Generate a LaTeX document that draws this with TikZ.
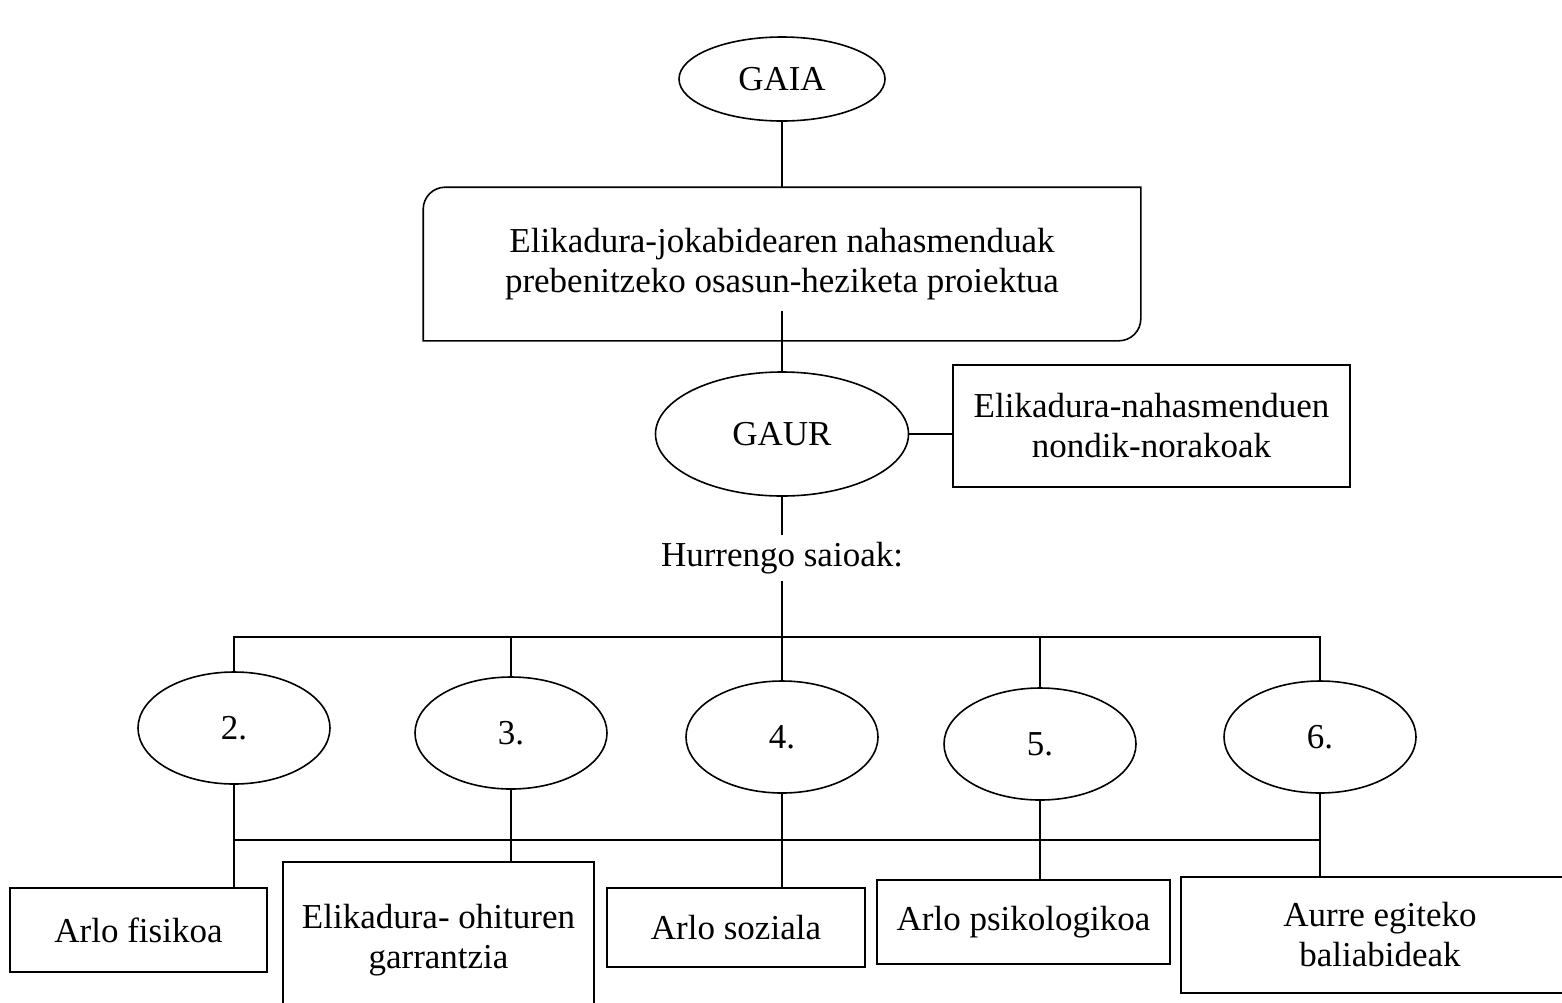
\documentclass[tikz,border=0pt]{standalone}
\usepackage{fontspec}
\setmainfont{Liberation Serif}
\usetikzlibrary{shapes.geometric}

\tikzset{
  oval/.style={draw, ellipse, inner sep=0pt},
  kutxa/.style={draw, rectangle, align=center, inner sep=0pt},
}

\begin{document}
\begin{tikzpicture}[x=0.5pt, y=-0.5pt, line width=0.8pt,
  font=\fontsize{17.5}{20}\selectfont]
\path[use as bounding box, clip] (0,0) rectangle (1562,1002);

\node[oval, minimum width=103pt, minimum height=42pt] (gaia) at (782,79) {GAIA};

% proiektuaren kutxa: bi izkina biribil
\node[align=center, minimum width=358pt, minimum height=76pt, inner sep=0pt] (prj) at (782,264)
  {Elikadura-jokabidearen nahasmenduak\\prebenitzeko osasun-heziketa proiektua};
\draw (prj.south west) -- ([yshift=-11pt]prj.north west)
  arc[start angle=180, end angle=90, radius=11pt] -- (prj.north east)
  -- ([yshift=11pt]prj.south east)
  arc[start angle=0, end angle=-90, radius=11pt] -- cycle;

\node[oval, minimum width=126.5pt, minimum height=62pt] (gaur) at (782,434) {GAUR};
\node[kutxa, minimum width=198.5pt, minimum height=61pt] (nn) at (1151.5,426)
  {Elikadura-nahasmenduen\\nondik-norakoak};
\node[inner xsep=1pt, inner ysep=3pt] (hs) at (782,558) {Hurrengo saioak:};

\foreach \n/\x/\y in {2/234/728, 3/511/733, 4/782/737, 5/1040/744, 6/1320/737}
{
\node[oval, minimum width=96pt, minimum height=56pt] (s\n) at (\x,\y) {\n.};
}

\node[kutxa, minimum width=128.5pt, minimum height=42pt] (a2) at (138.5,930) {Arlo fisikoa};
\node[kutxa, minimum width=155.5pt, minimum height=78pt] (a3) at (438.5,940) {Elikadura- ohituren\\garrantzia};
\node[kutxa, minimum width=129pt, minimum height=39.5pt] (a4) at (736,927.5) {Arlo soziala};
\node[kutxa, minimum width=146.5pt, minimum height=42pt] (a5) at (1023.5,922) {Arlo psikologikoa};
\node[kutxa, minimum width=199pt, minimum height=58pt] (a6) at (1380,935) {Aurre egiteko\\baliabideak};

\coordinate (goi) at (782,637);
\coordinate (behe) at (782,840);

\draw (gaia.south) -- (gaia.south |- prj.north);
\draw ([yshift=15pt]prj.south) -- (gaur.north);
\draw (gaur.east) -- (gaur.east -| nn.west);
\draw (gaur.south) -- (hs.north);
\draw (hs.south) -- (s4.north);
\draw (s2.north) -- (s2.north |- goi) -- (s6.north |- goi) -- (s6.north);
\foreach \n in {3,5}
{
\draw (s\n.north) -- (s\n.north |- goi);
}
\draw (s2.south |- behe) -- (s6.south |- behe);
\foreach \n in {2,...,6}
{
\draw (s\n.south) -- (s\n.south |- a\n.north);
}
\end{tikzpicture}
\end{document}
